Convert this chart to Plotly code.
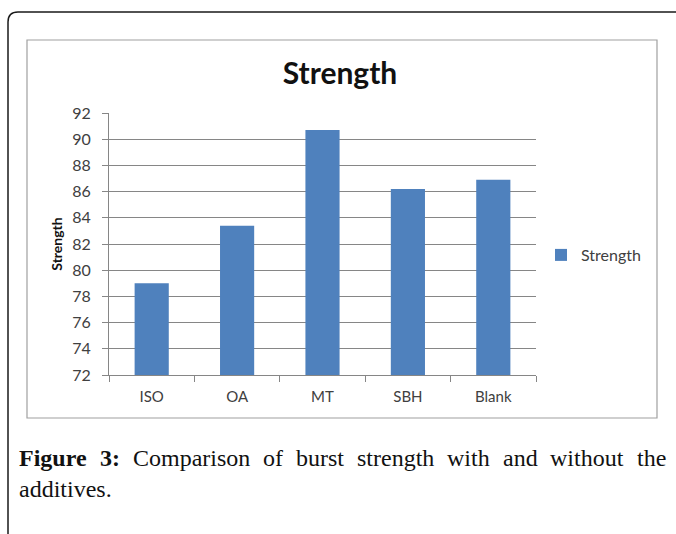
import plotly.graph_objects as go

# Burst strength per additive
categories = ["ISO", "OA", "MT", "SBH", "Blank"]
strength = [79.0, 83.4, 90.7, 86.2, 86.9]
series_name = "Strength"
y_ticks = list(range(72, 93, 2))

caption_label = "Figure 3:"
caption_line1 = ["Comparison", "of", "burst", "strength", "with", "and", "without", "the"]
caption_line2 = "additives."

W, H = 676, 534
L, R, T, B = 109, 140, 113, 159
PW, PH = W - L - R, H - T - B


def px(x):
    return (x - L) / PW


def py(y):
    return (H - B - y) / PH


# Times-compatible advance widths (1/1000 em) used to justify the caption line
REG = {"a": 444, "b": 500, "d": 500, "e": 444, "f": 333, "g": 500, "h": 500,
       "i": 278, "m": 778, "n": 500, "o": 500, "p": 500, "r": 333, "s": 389,
       "t": 278, "u": 500, "w": 722, "C": 667, " ": 250, ".": 250}
BOLD = {"F": 611, "i": 278, "g": 500, "u": 556, "r": 444, "e": 444,
        "3": 500, ":": 333, " ": 250}


def text_width(s, size, table):
    return sum(table.get(c, 500) for c in s) * size / 1000.0


fig = go.Figure(
    go.Bar(
        x=categories,
        y=strength,
        name=series_name,
        marker=dict(color="#4F81BD", line=dict(width=0)),
        showlegend=True,
    )
)

txt = "#404040"
font_family = "Lato, 'Open Sans', sans-serif"

fig.update_layout(
    width=W,
    height=H,
    margin=dict(l=L, r=R, t=T, b=B),
    paper_bgcolor="white",
    plot_bgcolor="white",
    bargap=0.6,
    font=dict(family=font_family, color=txt, size=16),
    title=dict(
        text="<b>Strength</b>",
        x=340 / W,
        xanchor="center",
        y=1 - 73 / H,
        yanchor="middle",
        font=dict(family=font_family, size=30, color="#111111"),
    ),
    xaxis=dict(
        type="category",
        showline=True,
        linecolor="#868686",
        linewidth=1,
        ticks="outside",
        tickson="boundaries",
        ticklen=6,
        tickcolor="#868686",
        showgrid=False,
        ticklabelstandoff=8,
        tickfont=dict(size=15, color=txt),
    ),
    yaxis=dict(
        range=[72, 92],
        tickvals=y_ticks,
        showline=True,
        linecolor="#868686",
        linewidth=1,
        ticks="outside",
        ticklen=6,
        tickcolor="#868686",
        showgrid=True,
        gridcolor="#868686",
        gridwidth=1,
        zeroline=False,
        ticklabelstandoff=8,
        tickfont=dict(size=16, color=txt),
        title=dict(
            text="<b>Strength</b>",
            font=dict(size=14, color="#111111"),
            standoff=6,
        ),
    ),
    legend=dict(
        x=px(541),
        xanchor="left",
        y=py(255),
        yanchor="middle",
        font=dict(size=16, color=txt),
        bgcolor="rgba(0,0,0,0)",
    ),
)

# Chart border box and outer page frame
fig.add_shape(
    type="rect", xref="paper", yref="paper",
    x0=px(27), x1=px(657), y0=py(40), y1=py(418),
    line=dict(color="#a0a0a0", width=1.2), fillcolor="rgba(0,0,0,0)", layer="below",
)
r = 10
frame_path = (
    f"M {px(8)},{py(H + 2)} L {px(8)},{py(12 + r)} "
    f"Q {px(8)},{py(12)} {px(8 + r)},{py(12)} L {px(W + 2)},{py(12)}"
)
fig.add_shape(
    type="path", xref="paper", yref="paper", path=frame_path,
    line=dict(color="#1a1a1a", width=1.5),
)

# Figure caption: first line justified between the frame margins
serif = "'Liberation Serif', 'Times New Roman', serif"
cap_size = 24
left_edge, right_edge = 17, 664
pieces = [("Figure", True), ("3:", True)] + [(w, False) for w in caption_line1]
widths = [text_width(w, cap_size, BOLD if b else REG) for w, b in pieces]
gap = (right_edge - left_edge - sum(widths)) / (len(pieces) - 1)
xpos = left_edge
for (word, bold), wdt in zip(pieces, widths):
    fig.add_annotation(
        text=f"<b>{word}</b>" if bold else word, xref="paper", yref="paper",
        x=px(xpos), y=py(458), xanchor="left", yanchor="middle", showarrow=False,
        font=dict(family=serif, size=cap_size, color="#111111"),
    )
    xpos += wdt + gap
fig.add_annotation(
    text=caption_line2, xref="paper", yref="paper",
    x=px(left_edge), y=py(489), xanchor="left", yanchor="middle", showarrow=False,
    font=dict(family=serif, size=cap_size, color="#111111"),
)

fig.write_html("out.html")
